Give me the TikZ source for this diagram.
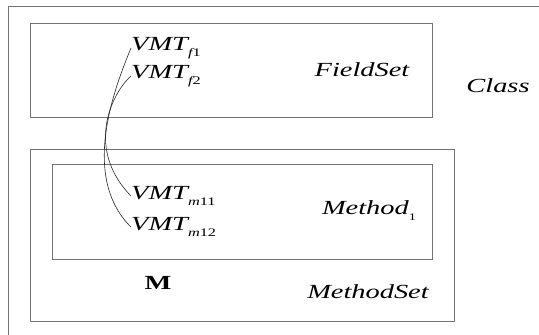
\documentclass[tikz,border=0pt]{standalone}
\usepackage{fontspec}
\setmainfont[FakeStretch=1.42]{Liberation Serif}
\begin{document}
\begin{tikzpicture}[x=1pt,y=-1pt,
  box/.style={draw=black!55, line width=0.9pt},
  lbl/.style={inner sep=0pt, font=\fontsize{20}{20}\selectfont\itshape},
  vmt/.style={lbl, anchor=west},
  link/.style={draw=black!85, line width=0.6pt}]
\useasboundingbox (0,0) rectangle (539,335);
% containers
\draw[box] (8,6) rectangle (620,400);
\draw[box] (30,23) rectangle (432,117);
\draw[box] (30,149) rectangle (454,321);
\draw[box] (52,164) rectangle (432,259);
% labels
\newcommand{\subsc}[2]{\raisebox{-6.5pt}{\fontsize{11.5}{11.5}\selectfont\itshape #1\upshape #2}}
\node[vmt] (f1) at (131,48) {VMT\subsc{f}{1}};
\node[vmt] (f2) at (131,76) {VMT\subsc{f}{2}};
\node[vmt] (m11) at (131,196) {VMT\subsc{m}{11}};
\node[vmt] (m12) at (131,227) {VMT\subsc{m}{12}};
\node[lbl] (fs) at (362,70) {FieldSet};
\node[lbl] (cl) at (498,86) {Class};
\node[lbl] (me) at (369,211) {Method\raisebox{-6pt}{\fontsize{10}{10}\selectfont\upshape 1}};
\node[lbl] (ms) at (368,292) {MethodSet};
\node[inner sep=0pt, font=\fontsize{20}{20}\selectfont\bfseries] (mm) at (158,283) {M};
% links between field and method tables
\draw[link] (f1.west) .. controls (118,80) and (78,175) .. (m12.west);
\draw[link] (f2.west) .. controls (110,95) and (86,150) .. (m11.west);
\end{tikzpicture}
\end{document}
